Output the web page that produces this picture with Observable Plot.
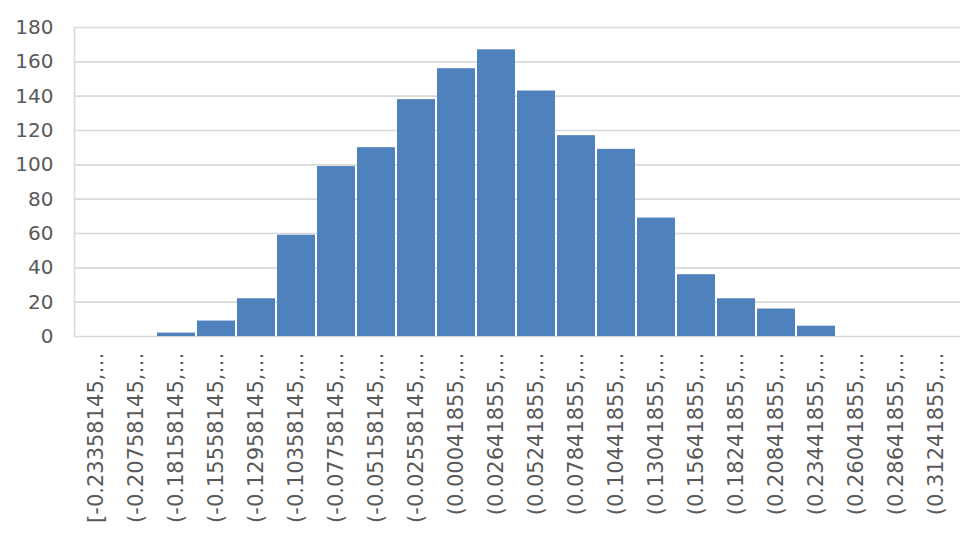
<!DOCTYPE html>
<html><head><meta charset="utf-8">
<script src="https://cdn.jsdelivr.net/npm/d3@7"></script>
<script src="https://cdn.jsdelivr.net/npm/@observablehq/plot@0.6"></script>
<style>html,body{margin:0;padding:0;background:#fff}</style>
</head><body><div id="chart"></div>
<script>
const binLabels = [
  "[-0.23358145,…", "(-0.20758145,…", "(-0.18158145,…", "(-0.15558145,…",
  "(-0.12958145,…", "(-0.10358145,…", "(-0.07758145,…", "(-0.05158145,…",
  "(-0.02558145,…", "(0.00041855,…", "(0.02641855,…", "(0.05241855,…",
  "(0.07841855,…", "(0.10441855,…", "(0.13041855,…", "(0.15641855,…",
  "(0.18241855,…", "(0.20841855,…", "(0.23441855,…", "(0.26041855,…",
  "(0.28641855,…", "(0.31241855,…"
];
const counts = [0, 0, 2, 9, 22, 59, 99, 110, 138, 156, 167, 143, 117, 109, 69, 36, 22, 16, 6, 0, 0, 0];
const yTicks = [0, 20, 40, 60, 80, 100, 120, 140, 160, 180];

const data = binLabels.map((label, i) => ({label, count: counts[i]}));

const chart = Plot.plot({
  width: 975,
  height: 540,
  marginLeft: 74,
  marginRight: 15,
  marginTop: 27,
  marginBottom: 204,
  style: {fontFamily: "DejaVu Sans", fontSize: "20px", color: "#595959", background: "#fff"},
  x: {domain: binLabels, range: [74, 958], paddingInner: 0.05, paddingOuter: 0, label: null},
  y: {domain: [0, 180], label: null},
  marks: [
    Plot.gridY(yTicks, {stroke: "#d9d9d9", strokeOpacity: 1, strokeWidth: 1.6}),
    Plot.frame({anchor: "left", stroke: "#d9d9d9", strokeWidth: 1.6}),
    Plot.barY(data, {x: "label", y: "count", fill: "#4f81bd"}),
    Plot.axisY(yTicks, {tickSize: 0, tickPadding: 21, fontSize: 20, label: null}),
    Plot.axisX({tickRotate: -90, tickSize: 0, tickPadding: 16, fontSize: 21, label: null})
  ]
});
document.getElementById("chart").appendChild(chart);
</script>
</body></html>
